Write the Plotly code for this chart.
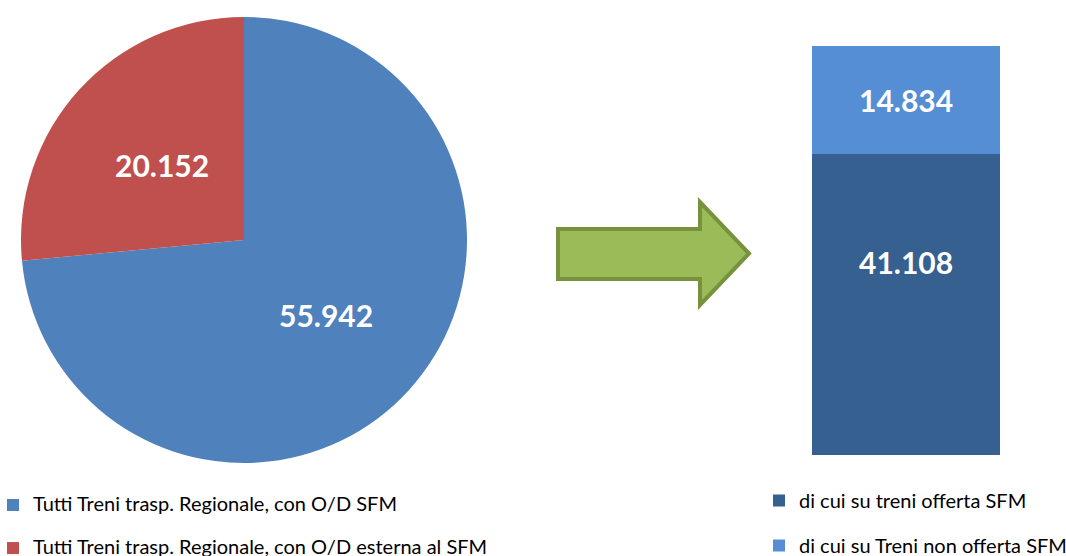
import math
import plotly.graph_objects as go

# Passenger totals: regional trains by O/D, and the SFM split
pie_labels = [
    "Tutti Treni trasp. Regionale, con O/D SFM",
    "Tutti Treni trasp. Regionale, con O/D esterna al SFM",
]
pie_values = [55942, 20152]
pie_colors = ["#4F81BD", "#C0504D"]

bar_names = ["di cui su treni offerta SFM", "di cui su Treni non offerta SFM"]
bar_values = [41108, 14834]
bar_colors = ["#36608F", "#558ED5"]
bar_category = [""]

# where each bar label sits inside its segment (fraction of segment height)
bar_label_frac = [0.642, 0.5]
# pie labels sit at this fraction of the radius, on each slice's mid-angle
pie_label_radius = 0.5

W, H = 1066, 556
FONT = "Lato"
LEGEND_TEXT = 20
VALUE_FONT = dict(family=FONT, size=30, color="white", weight="bold")

# pie box in pixels (left, top, right, bottom)
PIE_BOX = (21, 17, 467, 463)


def px(x):
    return x / W


def py(y):
    return 1 - y / H


def it_num(v):
    return f"{v:,}".replace(",", ".")


def legend_label(s):
    # second blank line gives the roomy spacing between pie legend entries
    return f"<span style='font-size:{LEGEND_TEXT}px'>{s}</span><br> "


fig = go.Figure()

fig.add_trace(go.Pie(
    labels=[legend_label(s) for s in pie_labels],
    values=pie_values,
    marker=dict(colors=pie_colors),
    sort=False,
    direction="clockwise",
    rotation=0,
    textinfo="none",
    domain=dict(x=[px(PIE_BOX[0]), px(PIE_BOX[2])],
                y=[py(PIE_BOX[3]), py(PIE_BOX[1])]),
    legend="legend",
    hoverinfo="value",
))

# value labels on the pie, placed along each slice's mid-angle
cx = (PIE_BOX[0] + PIE_BOX[2]) / 2
cy = (PIE_BOX[1] + PIE_BOX[3]) / 2
r = (PIE_BOX[2] - PIE_BOX[0]) / 2
total = sum(pie_values)
start = 0.0
for v in pie_values:
    mid = 2 * math.pi * (start + v / 2) / total
    lx = cx + pie_label_radius * r * math.sin(mid)
    ly = cy - pie_label_radius * r * math.cos(mid)
    fig.add_annotation(x=px(lx), y=py(ly), xref="paper", yref="paper",
                       xanchor="center", yanchor="middle",
                       text=it_num(v), showarrow=False, font=VALUE_FONT)
    start += v

base = 0
for name, val, col, frac in zip(bar_names, bar_values, bar_colors, bar_label_frac):
    fig.add_trace(go.Bar(
        x=bar_category,
        y=[val],
        name=name,
        marker=dict(color=col, line=dict(width=0)),
        width=1,
        textposition="none",
        legend="legend2",
        legendgroup=name,
        xaxis="x",
        yaxis="y",
    ))
    fig.add_annotation(
        x=bar_category[0], y=base + frac * val, xref="x", yref="y",
        xanchor="center", yanchor="middle",
        text=it_num(val), showarrow=False, font=VALUE_FONT,
    )
    base += val

# Green arrow between the two charts
arrow = [(558, 229), (700, 229), (700, 202), (749, 253.5),
         (700, 305), (700, 279), (558, 279)]
path = "M " + " L ".join(f"{px(x):.5f},{py(y):.5f}" for x, y in arrow) + " Z"
fig.add_shape(type="path", path=path, xref="paper", yref="paper",
              fillcolor="#9BBB59", line=dict(color="#76923C", width=4))

fig.update_layout(
    width=W, height=H,
    margin=dict(l=0, r=0, t=0, b=0, autoexpand=False),
    paper_bgcolor="white", plot_bgcolor="white",
    separators=",.",
    barmode="stack",
    font=dict(family=FONT, size=18, color="#000000"),
    xaxis=dict(domain=[px(812), px(1000)], range=[-0.5, 0.5],
               visible=False, fixedrange=True),
    yaxis=dict(domain=[py(455), py(46)], range=[0, sum(bar_values)],
               visible=False, fixedrange=True),
    showlegend=True,
    legend=dict(x=px(-7), y=py(488.5), xanchor="left", yanchor="top",
                valign="top",
                font=dict(family=FONT, size=15.4, color="#000000"),
                bgcolor="rgba(0,0,0,0)"),
    legend2=dict(x=px(759), y=py(481), xanchor="left", yanchor="top",
                 traceorder="grouped", tracegroupgap=16,
                 font=dict(family=FONT, size=LEGEND_TEXT, color="#000000"),
                 bgcolor="rgba(0,0,0,0)"),
)

fig.write_html("out.html")
